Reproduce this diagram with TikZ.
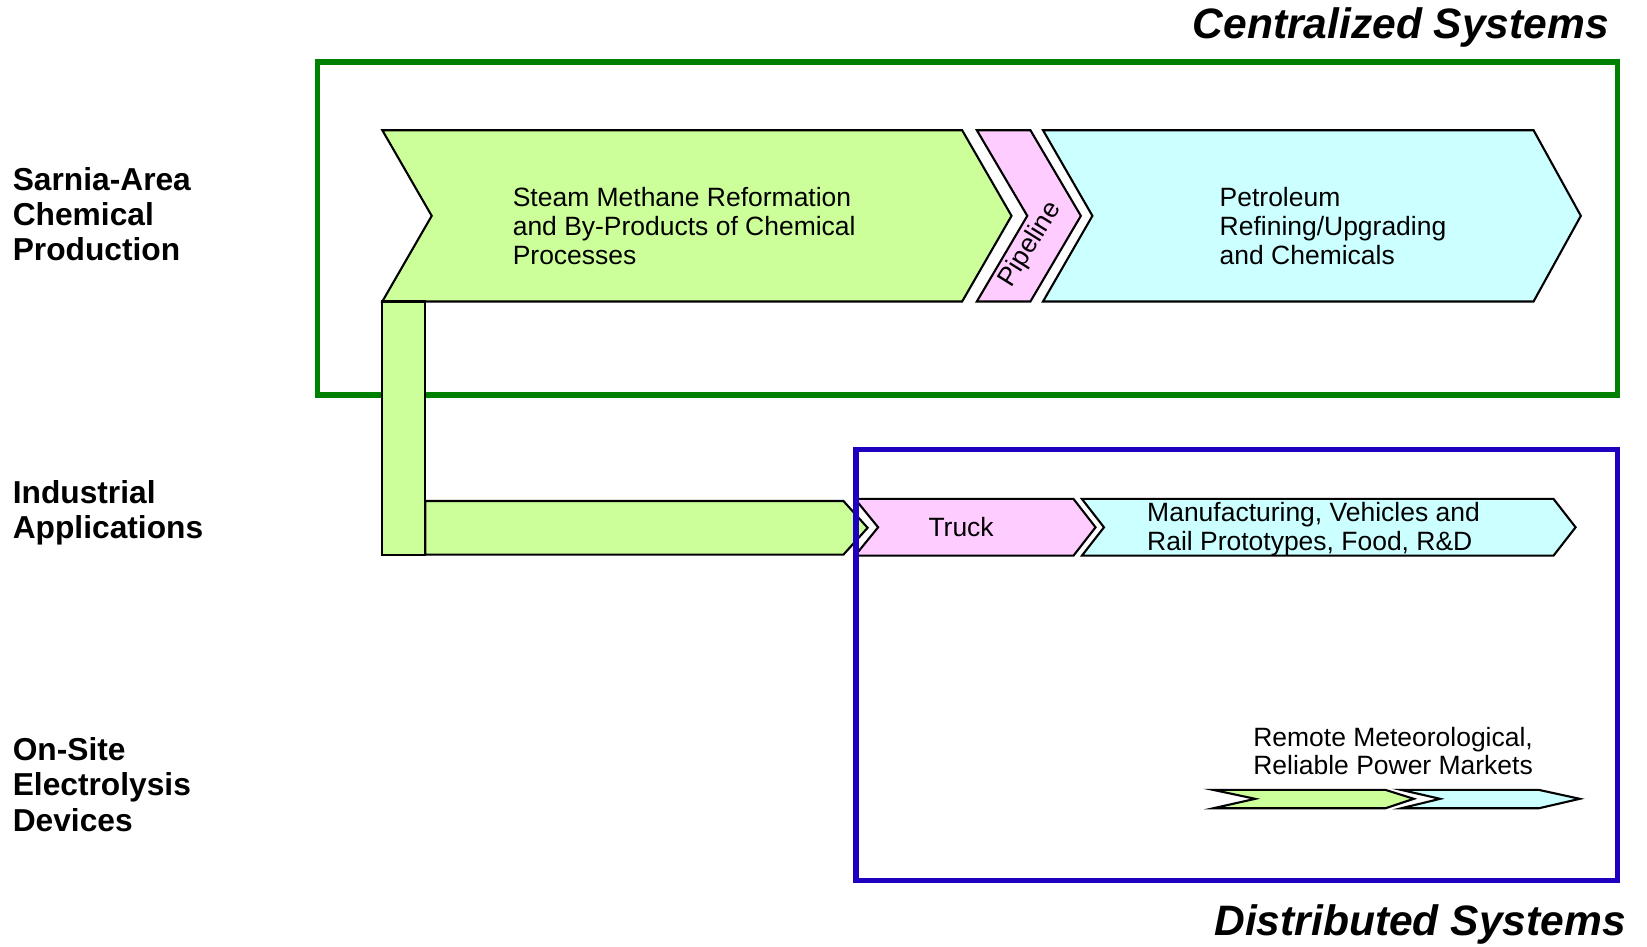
\documentclass[tikz,border=0pt]{standalone}
\usepackage{fontspec}
\setmainfont{Liberation Sans}
\definecolor{lgreen}{HTML}{CCFF99}
\definecolor{lpink}{HTML}{FFCCFF}
\definecolor{lcyan}{HTML}{CCFFFF}
\definecolor{boxgreen}{HTML}{008000}
\definecolor{boxblue}{RGB}{32,0,192}
\tikzset{
  shapeline/.style={draw=black, line width=2pt, line join=miter},
  gfill/.style={shapeline, fill=lgreen},
  pfill/.style={shapeline, fill=lpink},
  cfill/.style={shapeline, fill=lcyan},
  bodytext/.style={inner sep=0pt, align=left, font=\fontsize{25.2}{27.5}\selectfont},
  rowlabel/.style={inner sep=0pt, align=left, anchor=west, font=\fontsize{30.2}{33.5}\selectfont\bfseries},
  systitle/.style={inner sep=0pt, anchor=base east, font=\fontsize{40.5}{44}\selectfont\bfseries\itshape},
  sysbox/.style={line width=5pt}
}
\begin{document}
\begin{tikzpicture}[x=1pt,y=-1pt]
\useasboundingbox (0,0) rectangle (1568,901);

% system boxes
\draw[sysbox, draw=boxgreen] (302,59) rectangle (1540,376);

% top row chevrons
\draw[gfill] (364,124) -- (916,124) -- (963,205.5) -- (916,287) -- (364,287) -- (411,205.5) -- cycle;
\draw[pfill] (930,124) -- (981,124) -- (1029,205.5) -- (981,287) -- (930,287) -- (978,205.5) -- cycle;
\draw[cfill] (993,124) -- (1460,124) -- (1505,205.5) -- (1460,287) -- (993,287) -- (1040,205.5) -- cycle;

% green branch down to industrial row
\draw[gfill] (364,287) rectangle (405,528);
\draw[gfill] (405,477) -- (803,477) -- (826,502.5) -- (803,528) -- (405,528) -- cycle;

% truck row
\draw[pfill] (814,475) -- (1022,475) -- (1043,502) -- (1022,529) -- (814,529) -- (836,502) -- cycle;
\draw[cfill] (1030,475) -- (1479,475) -- (1500,502) -- (1479,529) -- (1030,529) -- (1051,502) -- cycle;

% electrolysis row
\draw[gfill] (1155,752) -- (1319,752) -- (1346,760.5) -- (1319,769.5) -- (1155,769.5) -- (1195,760.5) -- cycle;
\draw[cfill] (1334,752) -- (1465,752) -- (1504,760.5) -- (1465,769.5) -- (1334,769.5) -- (1371,760.5) -- cycle;

\draw[sysbox, draw=boxblue] (815,428) rectangle (1540,838);

% texts
\node[bodytext, anchor=west] (smr) at (488,215) {Steam Methane Reformation\\and By-Products of Chemical\\Processes};
\node[bodytext, anchor=west] (pet) at (1161,215) {Petroleum\\Refining/Upgrading\\and Chemicals};
\node[bodytext, rotate=58] (pipe) at (981,233) {Pipeline};
\node[bodytext] (truck) at (915,502) {Truck};
\node[bodytext, anchor=west] (manu) at (1092,503.5) {Manufacturing, Vehicles and\\Rail Prototypes, Food, R\&D};
\node[bodytext, anchor=west] (remote) at (1193,715) {Remote Meteorological,\\Reliable Power Markets};

\node[rowlabel] (sarnia) at (12,204) {Sarnia-Area\\Chemical\\Production};
\node[rowlabel] (indus) at (12,488) {Industrial\\Applications};
\node[rowlabel] (onsite) at (12,747) {On-Site\\Electrolysis\\Devices};

\node[systitle] (central) at (1532,37) {Centralized Systems};
\node[systitle] (distrib) at (1548,891) {Distributed Systems};
\end{tikzpicture}
\end{document}
